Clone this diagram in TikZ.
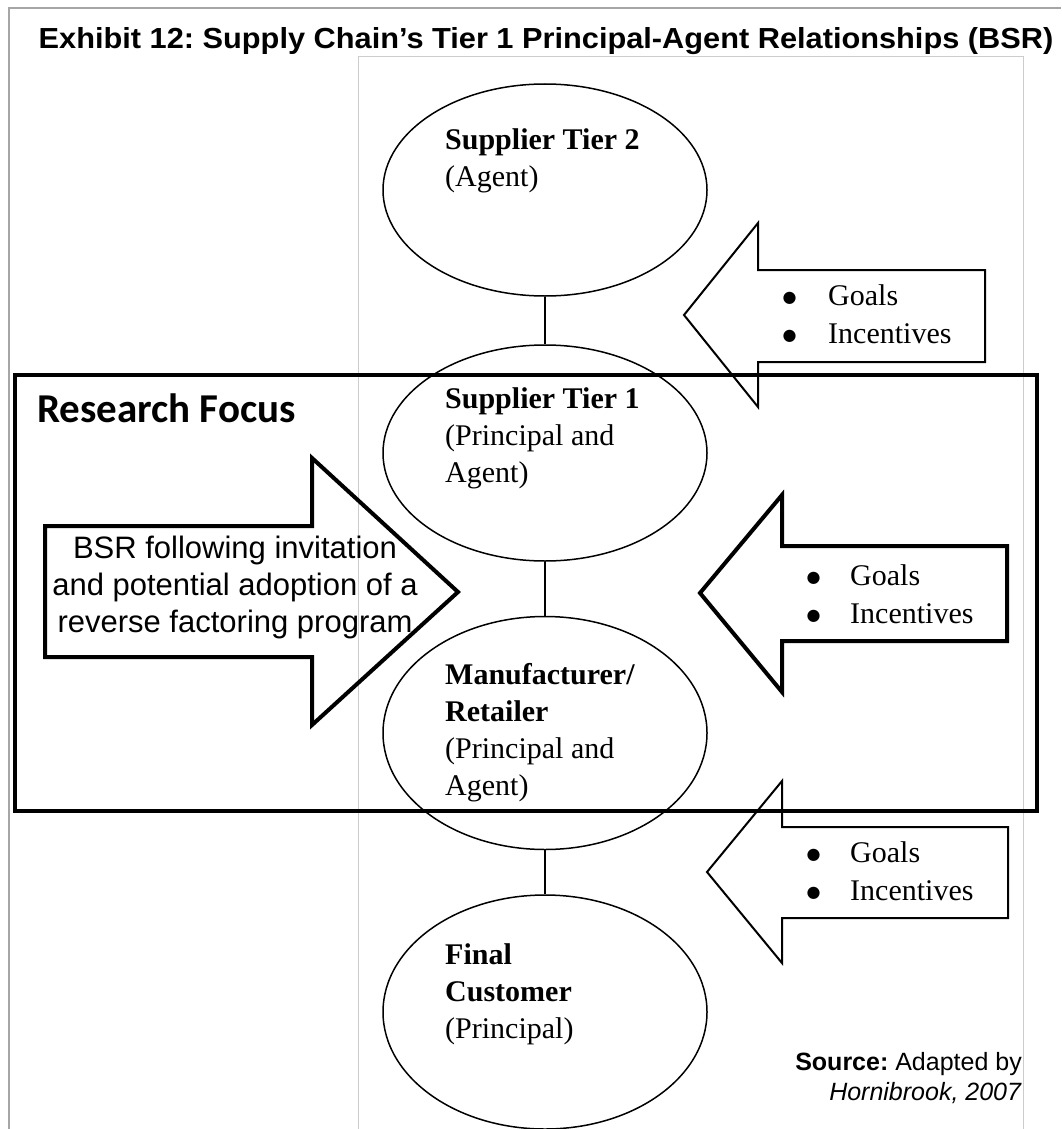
\documentclass[tikz,border=0pt]{standalone}
\usepackage{fontspec}
\setmainfont{Liberation Serif}
\newfontfamily\arialfont{Liberation Sans}
\newfontfamily\calibrifont{Carlito}
\newfontfamily\symbolfont{DejaVu Sans}
\usetikzlibrary{shapes.geometric}
\frenchspacing

\newcommand{\bigbullet}{\makebox[15pt]{\raisebox{3pt}{\symbolfont\fontsize{16}{16}\selectfont ●}}}

\begin{document}
\begin{tikzpicture}[
  x=1pt, y=-1pt,
  party/.style={draw, ellipse, line width=1.5pt, minimum width=324pt, inner sep=0pt},
  partytext/.style={anchor=west, align=left, inner sep=0pt, font=\fontsize{30}{37}\selectfont},
  link/.style={line width=1.5pt},
  thinarrow/.style={draw, line width=2pt, line join=miter},
  thickarrow/.style={draw, line width=4pt, line join=miter},
  bullets/.style={anchor=west, align=left, inner sep=0pt, font=\fontsize{30}{38}\selectfont},
  frame/.style={draw=gray!70, line width=2pt},
  pageframe/.style={draw=gray!40, line width=1pt},
]
  \useasboundingbox (0,0) rectangle (1061,1129);

  % Outer frame and border of the pasted figure
  \draw[frame] (9,1129) -- (9,8) -- (1061,8);
  \draw[pageframe] (358,1129) -- (358,57) -- (1023,57) -- (1023,1129);

  % Title
  \node[inner sep=0pt, font=\arialfont\bfseries\fontsize{29}{30}\selectfont] (title) at (546,41)
    {\scalebox{1.06}[1]{Exhibit 12: Supply Chain’s Tier 1 Principal-Agent Relationships (BSR)}};

  % Supply chain
  \node[party, minimum height=212pt] (tier2) at (545,190) {};
  \node[party, minimum height=216pt] (tier1) at (545,453) {};
  \node[party, minimum height=233pt] (maker) at (545,733) {};
  \node[party, minimum height=234pt] (customer) at (545,1012) {};

  \node[partytext] (tier2txt) at ([xshift=-100pt, yshift=29pt]tier2.center)
    {\textbf{Supplier Tier 2}\\(Agent)};
  \node[partytext] (tier1txt) at ([xshift=-100pt, yshift=15pt]tier1.center)
    {\textbf{Supplier Tier 1}\\(Principal and\\Agent)};
  \node[partytext] (makertxt) at ([xshift=-100pt]maker.center)
    {\textbf{Manufacturer/}\\\textbf{Retailer}\\(Principal and\\Agent)};
  \node[partytext] (customertxt) at ([xshift=-100pt, yshift=18pt]customer.center)
    {\textbf{Final}\\\textbf{Customer}\\(Principal)};

  \draw[link] (tier2) -- (tier1);
  \draw[link] (tier1) -- (maker);
  \draw[link] (maker) -- (customer);

  % Goals and incentives
  \draw[thinarrow] (985,270) -- (758,270) -- (758,223) -- (684,315) -- (758,407) -- (758,362) -- (985,362) -- cycle;
  \draw[thickarrow] (1007,546) -- (782,546) -- (782,495) -- (700,593) -- (782,692) -- (782,641) -- (1007,641) -- cycle;
  \draw[thinarrow] (1008,827) -- (782,827) -- (782,781) -- (707,872) -- (782,963) -- (782,918) -- (1008,918) -- cycle;

  \node[bullets] (goals1) at (782,314) {\bigbullet\hspace{31pt}Goals\\\bigbullet\hspace{31pt}Incentives};
  \node[bullets] (goals2) at (806,594) {\bigbullet\hspace{29pt}Goals\\\bigbullet\hspace{29pt}Incentives};
  \node[bullets] (goals3) at (806,871) {\bigbullet\hspace{29pt}Goals\\\bigbullet\hspace{29pt}Incentives};

  % Research focus
  \draw[line width=4pt] (15,375) rectangle (1037,811);
  \node[anchor=west, inner sep=0pt, font=\calibrifont\bfseries\fontsize{41}{42}\selectfont] (focus) at (37,408) {Research Focus};

  \draw[thickarrow] (45,526) -- (312,526) -- (312,458) -- (458,592) -- (312,725) -- (312,657) -- (45,657) -- cycle;
  \node[align=center, inner sep=0pt, font=\arialfont\fontsize{31}{37}\selectfont] (bsr) at (235,587)
    {BSR following invitation\\and potential adoption of a\\reverse factoring program};

  % Source
  \node[anchor=east, align=right, inner sep=0pt, font=\arialfont\fontsize{25}{30}\selectfont] (source) at (1022,1078)
    {\textbf{Source:} Adapted by\\\textit{Hornibrook, 2007}};

\end{tikzpicture}
\end{document}
